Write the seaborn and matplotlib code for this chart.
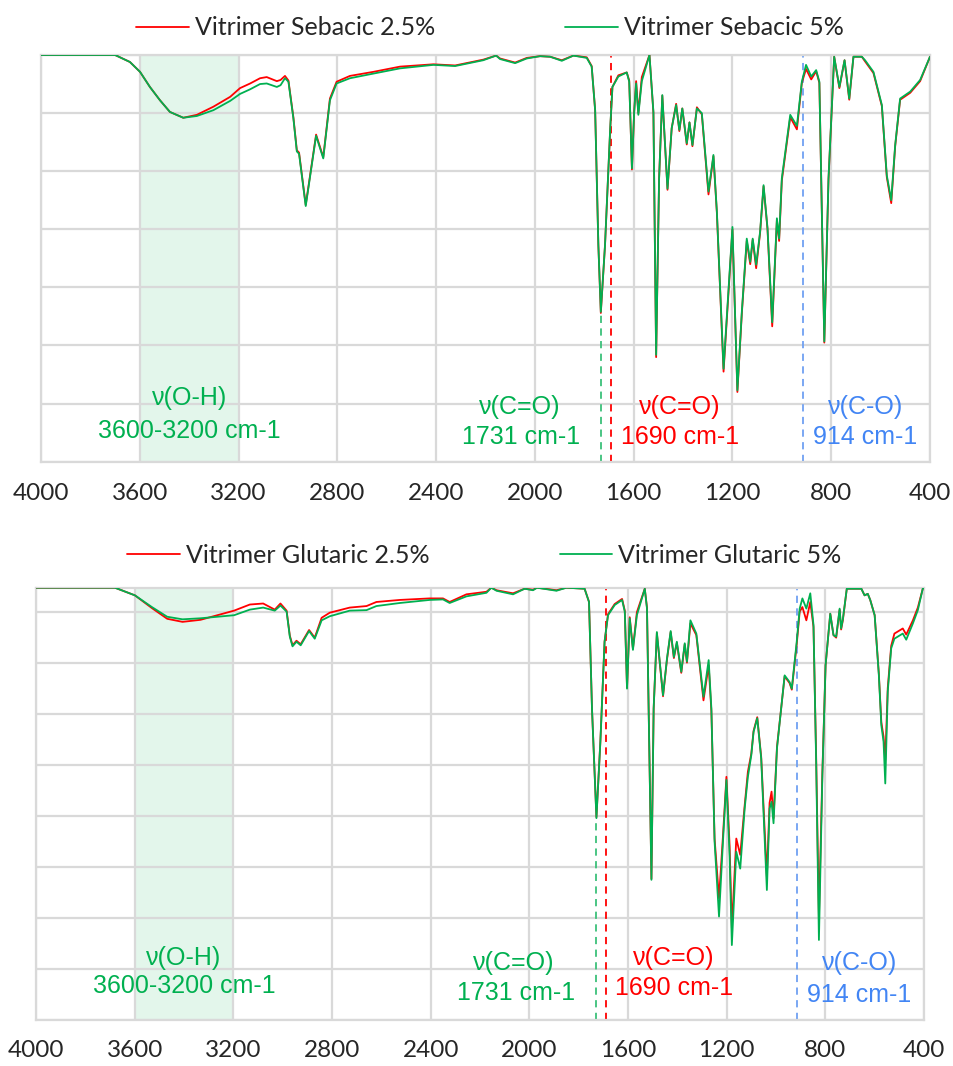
import numpy as np
import pandas as pd
import matplotlib
matplotlib.use("Agg")
import matplotlib.pyplot as plt
import seaborn as sns

# ======================
# Data (grid units)
# ======================
wn_top = [4000, 3800, 3700, 3640, 3599, 3559, 3518, 3478, 3424, 3369, 3302, 3234, 3194, 3153,
          3113, 3086, 3045, 3030, 3012, 2998, 2978, 2964, 2955, 2928, 2886, 2857, 2830, 2803,
          2749, 2654, 2546, 2411, 2323, 2209, 2157, 2141, 2080, 2033, 1979, 1938, 1891, 1844,
          1790, 1770, 1756, 1743, 1733, 1716, 1695, 1686, 1662, 1628, 1618, 1607, 1598, 1590,
          1581, 1567, 1536, 1520, 1509, 1497, 1484, 1463, 1446, 1428, 1415, 1403, 1385, 1374,
          1362, 1344, 1324, 1297, 1277, 1263, 1236, 1200, 1180, 1162, 1142, 1128, 1118, 1104,
          1088, 1074, 1058, 1039, 1020, 1011, 1000, 966, 939, 919, 902, 881, 861, 848,
          828, 811, 788, 767, 746, 727, 710, 676, 663, 629, 595, 575, 557, 541,
          521, 480, 440, 400]
sebacic_5 = [7.00, 7.00, 7.00, 6.88, 6.71, 6.45, 6.22, 6.02, 5.92, 5.95, 6.05, 6.21, 6.33, 6.41,
             6.50, 6.51, 6.45, 6.48, 6.60, 6.54, 5.91, 5.34, 5.30, 4.40, 5.61, 5.22, 6.22, 6.51,
             6.60, 6.68, 6.77, 6.83, 6.81, 6.91, 6.99, 6.93, 6.86, 6.94, 6.98, 6.97, 6.90, 6.99,
             6.95, 6.80, 6.05, 3.73, 2.58, 3.73, 5.74, 6.45, 6.63, 6.70, 6.54, 5.05, 6.02, 6.51,
             5.97, 6.55, 7.00, 6.02, 1.84, 4.88, 6.31, 4.70, 5.74, 6.14, 5.71, 6.08, 5.48, 5.84,
             5.45, 6.08, 6.00, 4.65, 5.28, 4.30, 1.60, 4.04, 1.23, 2.58, 3.84, 3.44, 3.84, 3.39,
             3.96, 4.76, 4.02, 2.40, 4.19, 3.84, 4.88, 5.97, 5.78, 6.54, 6.83, 6.63, 6.74, 6.54,
             2.07, 4.88, 6.97, 6.45, 6.91, 6.25, 6.97, 6.97, 6.91, 6.71, 6.14, 4.93, 4.50, 5.45,
             6.25, 6.37, 6.57, 6.97]
sebacic_25 = [7.00, 7.00, 7.00, 6.88, 6.71, 6.45, 6.22, 6.02, 5.92, 5.97, 6.11, 6.28, 6.43, 6.51,
              6.60, 6.62, 6.55, 6.57, 6.64, 6.56, 5.93, 5.36, 5.32, 4.42, 5.63, 5.24, 6.25, 6.54,
              6.64, 6.71, 6.80, 6.84, 6.82, 6.92, 6.99, 6.94, 6.87, 6.95, 6.98, 6.97, 6.91, 6.99,
              6.96, 6.81, 6.05, 3.73, 2.56, 3.73, 5.72, 6.45, 6.65, 6.70, 6.56, 5.03, 6.02, 6.55,
              6.00, 6.62, 7.00, 6.00, 1.80, 4.88, 6.30, 4.68, 5.74, 6.16, 5.69, 6.08, 5.46, 5.84,
              5.43, 6.10, 5.98, 4.60, 5.26, 4.28, 1.55, 4.00, 1.20, 2.55, 3.80, 3.40, 3.82, 3.33,
              3.94, 4.74, 4.00, 2.33, 4.16, 3.80, 4.84, 5.93, 5.72, 6.52, 6.76, 6.58, 6.72, 6.52,
              2.05, 4.86, 6.97, 6.43, 6.91, 6.23, 6.97, 6.97, 6.89, 6.69, 6.12, 4.90, 4.45, 5.43,
              6.23, 6.35, 6.55, 6.97]

wn_bot = [4000, 3800, 3680, 3599, 3530, 3468, 3406, 3333, 3197, 3133, 3079, 3032, 3009, 2984,
          2971, 2960, 2944, 2927, 2893, 2870, 2842, 2809, 2728, 2660, 2620, 2525, 2404, 2350,
          2323, 2255, 2174, 2154, 2133, 2066, 2019, 1985, 1969, 1890, 1850, 1776, 1758, 1746,
          1728, 1712, 1695, 1681, 1654, 1624, 1613, 1604, 1593, 1580, 1564, 1532, 1523, 1505,
          1496, 1483, 1458, 1442, 1427, 1414, 1402, 1384, 1370, 1361, 1347, 1323, 1294, 1273,
          1262, 1249, 1231, 1215, 1201, 1188, 1179, 1161, 1145, 1127, 1114, 1100, 1091, 1076,
          1060, 1037, 1026, 1018, 1010, 996, 979, 965, 945, 936, 916, 904, 893, 877,
          861, 848, 837, 826, 812, 799, 780, 767, 756, 742, 736, 729, 713, 654,
          641, 628, 618, 600, 583, 573, 564, 557, 547, 533, 520, 486, 472, 445,
          425, 405, 400]
glutaric_5 = [8.47, 8.47, 8.47, 8.32, 8.09, 7.90, 7.85, 7.87, 7.93, 8.04, 8.08, 8.02, 8.12, 8.00,
              7.51, 7.32, 7.41, 7.34, 7.62, 7.47, 7.83, 7.91, 8.02, 8.03, 8.11, 8.17, 8.23, 8.24,
              8.17, 8.30, 8.37, 8.47, 8.41, 8.34, 8.45, 8.42, 8.47, 8.41, 8.47, 8.45, 8.19, 6.10,
              3.95, 5.45, 7.41, 7.93, 8.13, 8.23, 8.00, 6.49, 7.87, 7.25, 7.93, 8.45, 8.06, 2.74,
              6.10, 7.60, 6.36, 7.08, 7.62, 7.11, 7.41, 6.82, 7.38, 7.02, 7.83, 7.57, 6.33, 7.05,
              6.10, 3.49, 2.02, 3.49, 4.70, 3.20, 1.46, 3.29, 2.96, 4.14, 4.76, 5.19, 5.64, 5.91,
              5.12, 2.54, 4.14, 4.27, 3.85, 5.32, 6.10, 6.75, 6.62, 6.49, 7.41, 8.06, 8.26, 8.06,
              8.36, 7.74, 5.00, 1.56, 4.79, 6.95, 7.96, 7.54, 7.51, 8.06, 7.67, 7.85, 8.45, 8.45,
              8.32, 8.35, 8.23, 7.93, 6.75, 5.77, 5.45, 4.63, 6.43, 7.28, 7.47, 7.57, 7.45, 7.77,
              8.03, 8.45, 8.47]
glutaric_25 = [8.47, 8.47, 8.47, 8.32, 8.07, 7.86, 7.80, 7.84, 8.02, 8.14, 8.16, 8.04, 8.16, 8.02,
               7.53, 7.34, 7.43, 7.36, 7.64, 7.49, 7.88, 7.98, 8.08, 8.11, 8.19, 8.23, 8.26, 8.26,
               8.19, 8.34, 8.39, 8.47, 8.42, 8.36, 8.45, 8.43, 8.47, 8.42, 8.47, 8.45, 8.19, 6.10,
               3.97, 5.45, 7.41, 7.95, 8.15, 8.25, 8.02, 6.51, 7.89, 7.27, 7.99, 8.45, 8.08, 2.76,
               6.10, 7.58, 6.34, 7.06, 7.60, 7.09, 7.39, 6.80, 7.36, 7.00, 7.77, 7.54, 6.26, 6.95,
               6.05, 3.55, 2.38, 3.60, 4.76, 3.40, 1.79, 3.55, 3.23, 4.20, 4.86, 5.22, 5.66, 5.93,
               5.15, 2.80, 4.25, 4.47, 3.95, 5.35, 6.10, 6.73, 6.60, 6.47, 7.36, 8.00, 8.09, 7.83,
               8.19, 7.70, 5.10, 1.98, 4.85, 6.95, 7.96, 7.54, 7.49, 8.04, 7.65, 7.83, 8.45, 8.45,
               8.32, 8.35, 8.23, 7.93, 6.78, 5.83, 5.55, 5.09, 6.50, 7.33, 7.57, 7.67, 7.55, 7.83,
               8.08, 8.45, 8.47]

xticks = list(range(4000, 399, -400))

RED = "#FF0000"
GREEN = "#00B050"
BLUE = "#4285F4"
GRID = "#D9D9D9"

sns.set_style("white")
plt.rcParams["font.family"] = ["Lato", "DejaVu Sans"]

fig = plt.figure(figsize=(9.54, 10.66), dpi=100)
ax1 = fig.add_axes([41 / 954, 1 - 461.7 / 1066, 889 / 954, 406.7 / 1066])
ax2 = fig.add_axes([36 / 954, 1 - 1019.5 / 1066, 888 / 954, 431.8 / 1066])


def draw_panel(ax, wn, red_y, green_y, names, ymax, c_o_min, labels_y, leg_y):
    df = pd.DataFrame({"wn": wn, "red": red_y, "green": green_y})
    ax.axvspan(3600, 3200, facecolor="#E3F6EB", edgecolor="none", zorder=0)
    sns.lineplot(data=df, x="wn", y="red", color=RED, lw=1.3, label=names[0], ax=ax, zorder=3)
    sns.lineplot(data=df, x="wn", y="green", color=GREEN, lw=1.3, label=names[1], ax=ax, zorder=4)

    ax.set_xlim(4000, 400)
    ax.set_ylim(0, ymax)
    ax.set_xticks(xticks)
    ax.set_xticklabels([str(t) for t in xticks], fontsize=17.5)
    ax.set_yticks(range(0, int(ymax) + 1))
    ax.set_yticklabels([])
    ax.tick_params(length=0, pad=15)
    ax.grid(True, color=GRID, lw=1.6, zorder=1)
    ax.set_axisbelow(True)
    for s in ax.spines.values():
        s.set_color(GRID)
        s.set_linewidth(1.6)
    ax.set_xlabel("")
    ax.set_ylabel("")

    # marker lines
    ax.plot([1731, 1731], [0, c_o_min], ls=(0, (4, 3)), color="#3CC07A", lw=1.3, zorder=2)
    ax.axvline(1690, ls=(0, (4, 3)), color=RED, lw=1.3, zorder=2)
    ax.axvline(914, ls=(0, (4, 3)), color="#6FA0F2", lw=1.3, zorder=2)

    # annotations
    tk = dict(ha="center", va="center", fontsize=18, family=["Liberation Sans", "DejaVu Sans"])
    (y1a, y1b), (y2a, y2b), (y3a, y3b), (y4a, y4b) = labels_y
    ax.text(3400, y1a, "ν(O-H)", color=GREEN, **tk)
    ax.text(3400, y1b, "3600-3200 cm-1", color=GREEN, **tk)
    ax.text(2062, y2a, "ν(C=O)", color=GREEN, **tk)
    ax.text(2054, y2b, "1731 cm-1", color=GREEN, **tk)
    ax.text(1413, y3a, "ν(C=O)", color=RED, **tk)
    ax.text(1413, y3b, "1690 cm-1", color=RED, **tk)
    ax.text(660, y4a, "ν(C-O)", color=BLUE, **tk)
    ax.text(662, y4b, "914 cm-1", color=BLUE, **tk)

    ax.legend(loc="center", bbox_to_anchor=(0.505, leg_y),
              ncol=2, frameon=False, fontsize=18, handlelength=2.1,
              handletextpad=0.25, columnspacing=5.2)


draw_panel(ax1, wn_top, sebacic_25, sebacic_5,
           ["Vitrimer Sebacic 2.5%", "Vitrimer Sebacic 5%"], 7.0, 2.58,
           [(1.09, 0.52), (0.94, 0.43), (0.95, 0.43), (0.95, 0.43)], 1.067)
draw_panel(ax2, wn_bot, glutaric_25, glutaric_5,
           ["Vitrimer Glutaric 2.5%", "Vitrimer Glutaric 5%"], 8.47, 3.95,
           [(1.21, 0.66), (1.11, 0.52), (1.21, 0.62), (1.11, 0.48)], 1.075)

fig.savefig("out.png", dpi=100)
